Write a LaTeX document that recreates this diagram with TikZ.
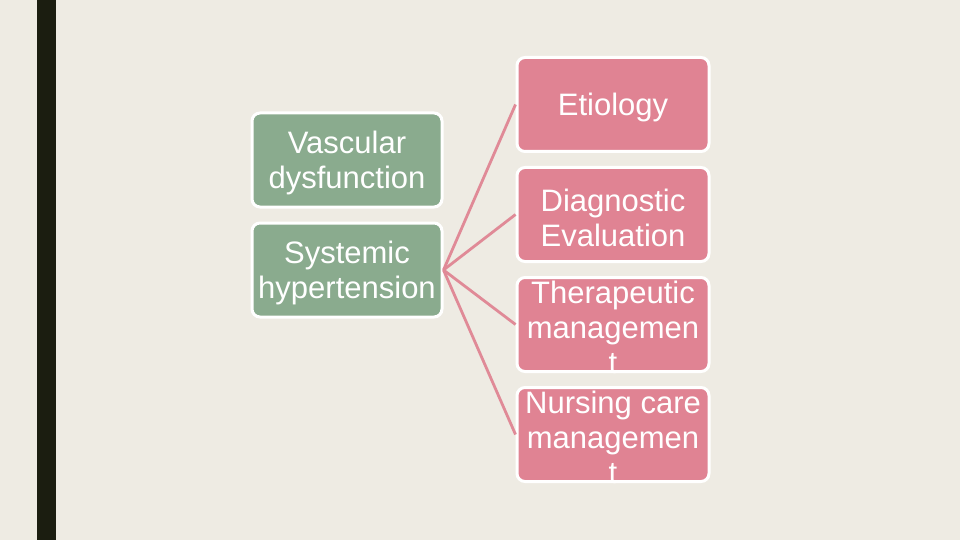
\documentclass[tikz,border=0pt]{standalone}
\usepackage{fontspec}
\setmainfont{Liberation Sans}
\definecolor{bg}{HTML}{EEEBE3}
\definecolor{bar}{HTML}{1B1D10}
\definecolor{gfill}{HTML}{8AAB8E}
\definecolor{pfill}{HTML}{E08393}
\definecolor{pline}{HTML}{E08A97}
\tikzset{
  gbox/.style={draw=white, line width=3pt, fill=gfill, rounded corners=8pt,
    minimum width=190pt, minimum height=94pt, inner sep=0pt},
  pbox/.style={gbox, fill=pfill, minimum width=192pt},
  boxtext/.style={inner sep=0pt, align=center, text=white, yshift=-3pt,
    font=\fontsize{31}{35}\selectfont},
  conn/.style={draw=pline, line width=2.8pt}
}
\begin{document}
\begin{tikzpicture}[x=1pt,y=-1pt]
\useasboundingbox (0,0) rectangle (960,540);
\fill[bg] (0,0) rectangle (960,540);
\fill[bar] (37,0) rectangle (56,540);
\node[gbox] (vd) at (347,160) {};
\node[gbox] (sh) at (347,270) {};
\node[pbox] (et) at (613,104.5) {};
\node[pbox] (de) at (613,214.5) {};
\node[pbox] (tm) at (613,324.5) {};
\node[pbox] (nc) at (613,434.5) {};
\draw[conn] (sh.east) -- (et.west);
\draw[conn] (sh.east) -- (de.west);
\draw[conn] (sh.east) -- (tm.west);
\draw[conn] (sh.east) -- (nc.west);
\node[boxtext] (vdt) at (vd.center) {Vascular\\dysfunction};
\node[boxtext] (sht) at (sh.center) {Systemic\\hypertension};
\node[boxtext] (ett) at (et.center) {Etiology};
\node[boxtext] (det) at (de.center) {Diagnostic\\Evaluation};
\node[boxtext] (tmt) at (tm.center) {Therapeutic\\managemen\\t};
\node[boxtext] (nct) at (nc.center) {Nursing care\\managemen\\t};
\end{tikzpicture}
\end{document}
